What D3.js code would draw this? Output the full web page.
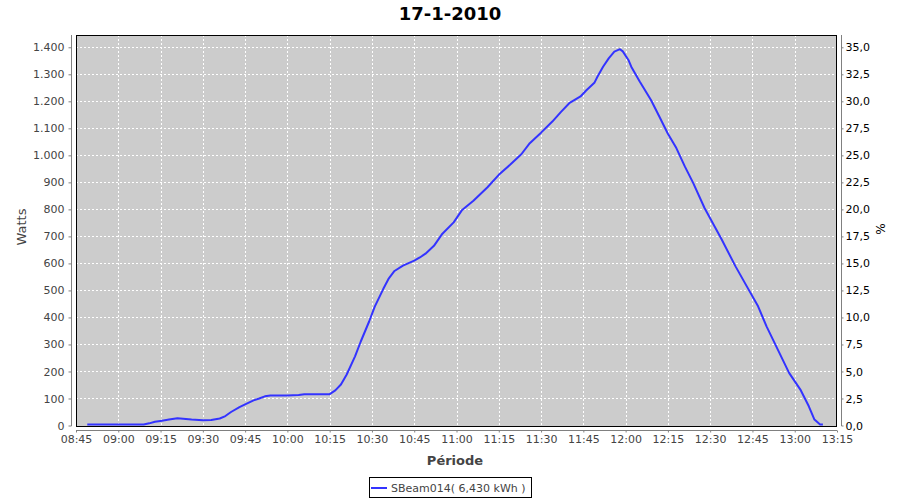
<!DOCTYPE html>
<html>
<head>
<meta charset="utf-8">
<script src="https://cdn.jsdelivr.net/npm/d3@7"></script>
<style>
  html, body { margin: 0; padding: 0; background: #fff; }
  svg { display: block; }
  text { font-family: "DejaVu Sans", sans-serif; }
</style>
</head>
<body>
<svg id="chart" width="900" height="500"></svg>
<script>
// ---- data ----
const title = "17-1-2010";
const seriesName = "SBeam014( 6,430 kWh )";
const times = ["08:49","09:00","09:09","09:11","09:13","09:15","09:18","09:21","09:23","09:26","09:30","09:33","09:36","09:38","09:40","09:43","09:45","09:48","09:50","09:52","09:54","10:00","10:04","10:06","10:15","10:17","10:19","10:21","10:24","10:26","10:29","10:31","10:34","10:36","10:38","10:41","10:45","10:47","10:49","10:52","10:55","10:59","11:02","11:06","11:11","11:15","11:19","11:23","11:26","11:30","11:34","11:37","11:40","11:44","11:46","11:49","11:50","11:52","11:54","11:56","11:58","11:59","12:01","12:02","12:05","12:09","12:12","12:15","12:18","12:21","12:24","12:28","12:34","12:39","12:43","12:47","12:50","12:54","12:58","13:02","13:05","13:07","13:09","13:10"];
const watts = [0,0,0,8,14,17,22,27,25,22,19,20,26,35,50,68,78,93,100,108,111,111,113,116,116,130,152,188,256,310,385,440,505,545,572,592,610,622,636,665,710,752,798,832,882,928,965,1004,1045,1084,1125,1160,1193,1218,1240,1270,1291,1328,1359,1384,1393,1385,1353,1328,1273,1205,1143,1080,1027,959,897,805,690,589,515,441,367,281,195,133,71,22,4,0];
const xTickLabels = ["08:45","09:00","09:15","09:30","09:45","10:00","10:15","10:30","10:45","11:00","11:15","11:30","11:45","12:00","12:15","12:30","12:45","13:00","13:15"];
const leftTicks = [0,100,200,300,400,500,600,700,800,900,1000,1100,1200,1300,1400];
const rightTicks = [0,2.5,5,7.5,10,12.5,15,17.5,20,22.5,25,27.5,30,32.5,35];

// ---- layout ----
const svg = d3.select("#chart");
const L = 76, R = 837, T = 35, B = 426;
const parse = d3.timeParse("%H:%M");
const data = times.map((t, i) => ({ t: parse(t), v: watts[i] }));

const x = d3.scaleTime().domain([parse("08:45"), parse("13:15")]).range([L, R]);
const yMax = (B - T) / ((B - 47.3) / 1400);
const y = d3.scaleLinear().domain([0, yMax]).range([B - 0.5, T]);
const y2 = d3.scaleLinear().domain([0, yMax / 40]).range([B - 0.5, T]);

svg.append("rect").attr("width", 900).attr("height", 500).attr("fill", "#fff");

// plot background
svg.append("rect").attr("x", L).attr("y", T).attr("width", R - L).attr("height", B - T)
  .attr("fill", "#cccccc");

const xTickVals = xTickLabels.map(parse);

// grid
const grid = svg.append("g").attr("stroke", "#fff").attr("stroke-dasharray", "2,2")
  .attr("stroke-width", 1).attr("shape-rendering", "crispEdges");
grid.selectAll("line.v").data(xTickVals.slice(1, -1)).enter().append("line")
  .attr("x1", d => Math.round(x(d)) + 0.5).attr("x2", d => Math.round(x(d)) + 0.5)
  .attr("y1", T).attr("y2", B);
grid.selectAll("line.h").data(leftTicks.slice(1)).enter().append("line")
  .attr("y1", d => Math.round(y(d)) + 0.5).attr("y2", d => Math.round(y(d)) + 0.5)
  .attr("x1", L).attr("x2", R);

// plot outline
svg.append("rect").attr("x", L + 0.5).attr("y", T + 0.5).attr("width", R - L - 1).attr("height", B - T)
  .attr("fill", "none").attr("stroke", "#000").attr("stroke-width", 1).attr("shape-rendering", "crispEdges");

// line
svg.append("path").datum(data)
  .attr("fill", "none").attr("stroke", "#3333ff").attr("stroke-width", 2)
  .attr("stroke-linejoin", "round")
  .attr("d", d3.line().x(d => x(d.t)).y(d => Math.min(y(d.v), B - 1.5)));

// axes
const fmtLeft = d => d3.format(",")(d).replace(/,/g, ".");
const fmtRight = d => d3.format(".1f")(d).replace(".", ",");

const axisStyle = g => {
  g.select(".domain").attr("stroke", "#808080");
  g.selectAll(".tick line").attr("stroke", "#808080");
  g.selectAll(".tick text").attr("fill", "#444").style("font-family", "DejaVu Sans, sans-serif").style("font-size", "11px");
};

const gL = svg.append("g").attr("transform", `translate(${L - 4.5},0)`)
  .call(d3.axisLeft(y).tickValues(leftTicks).tickFormat(fmtLeft).tickSize(3).tickSizeOuter(0).tickPadding(4));
axisStyle(gL);
gL.select(".domain").attr("d", `M0,${T}V${B}`);

const gR = svg.append("g").attr("transform", `translate(${R + 4.5},0)`)
  .call(d3.axisRight(y2).tickValues(rightTicks).tickFormat(fmtRight).tickSize(2).tickSizeOuter(0).tickPadding(2));
axisStyle(gR);
gR.select(".domain").attr("d", `M0,${T}V${B}`);
gR.selectAll(".tick text").attr("fill", "#000");

const gB = svg.append("g").attr("transform", `translate(0,${B + 4.5})`)
  .call(d3.axisBottom(x).tickValues(xTickVals).tickFormat(d3.timeFormat("%H:%M")).tickSize(2).tickSizeOuter(0).tickPadding(3));
axisStyle(gB);
gB.select(".domain").attr("d", `M${L},0H${R}`);

// title
svg.append("text").attr("x", 450).attr("y", 20).attr("text-anchor", "middle")
  .style("font-size", "18px").style("font-weight", "bold").attr("fill", "#000").text(title);

// axis labels
svg.append("text").attr("transform", "translate(26,227) rotate(-90)").attr("text-anchor", "middle")
  .style("font-size", "13px").attr("fill", "#444").text("Watts");
svg.append("text").attr("transform", "translate(885,229) rotate(-90)").attr("text-anchor", "middle")
  .style("font-size", "12px").attr("fill", "#000").text("%");
svg.append("text").attr("x", 455).attr("y", 465).attr("text-anchor", "middle")
  .style("font-size", "13px").style("font-weight", "bold").attr("fill", "#444").text("Période");

// legend
const lg = svg.append("g");
lg.append("rect").attr("x", 369.5).attr("y", 477.5).attr("width", 162).attr("height", 20)
  .attr("fill", "#fff").attr("stroke", "#000").attr("stroke-width", 1).attr("shape-rendering", "crispEdges");
lg.append("line").attr("x1", 371).attr("x2", 387).attr("y1", 488).attr("y2", 488)
  .attr("stroke", "#3333ff").attr("stroke-width", 2);
lg.append("text").attr("x", 391).attr("y", 492).style("font-size", "11px").attr("fill", "#444").text(seriesName);
</script>
</body>
</html>
